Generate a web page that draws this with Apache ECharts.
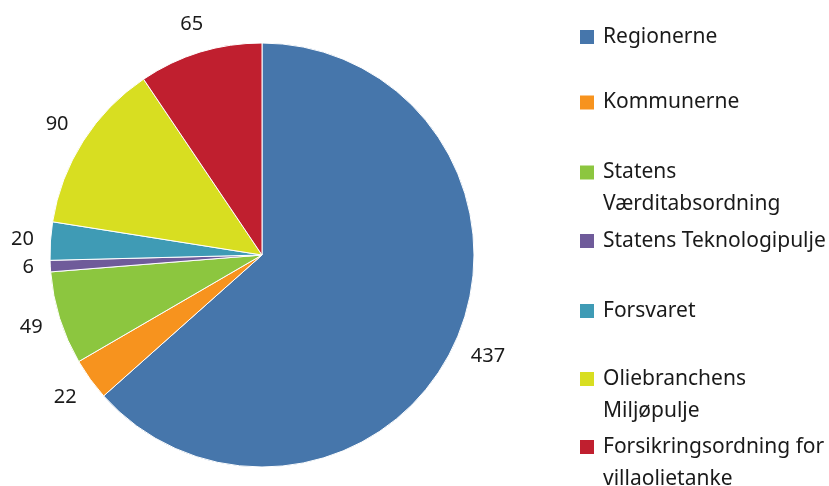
<!DOCTYPE html>
<html>
<head>
<meta charset="utf-8">
<script src="https://cdn.jsdelivr.net/npm/echarts@6/dist/echarts.min.js"></script>
<style>
  html, body { margin: 0; padding: 0; background: #fff; }
  #chart { width: 829px; height: 486px; }
</style>
</head>
<body>
<div id="chart"></div>
<script>
const names = [
  "Regionerne",
  "Kommunerne",
  "Statens\nVærditabsordning",
  "Statens Teknologipulje",
  "Forsvaret",
  "Oliebranchens\nMiljøpulje",
  "Forsikringsordning for\nvillaolietanke"
]
const values = [437, 22, 49, 6, 20, 90, 65]
const colors = ["#4676ab", "#f7931e", "#8cc63f", "#6f5b9a", "#3f9bb5", "#d8de21", "#c01f2f"]
// legend item tops
const legendTops = [21, 86.5, 124.5, 225, 295, 331, 399]

const CX = 262, CY = 255, R = 212
const font = "'Noto Sans', sans-serif"
const total = values.reduce(function (a, b) { return a + b }, 0)

const chart = echarts.init(document.getElementById("chart"))

const legends = names.map(function (n, i) {
  return {
    data: [n],
    orient: "vertical",
    left: 578,
    top: legendTops[i],
    padding: 0,
    itemWidth: 16,
    itemHeight: 16,
    itemGap: 0,
    icon: "rect",
    selectedMode: false,
    formatter: function (name) {
      // blank first line so the marker sits on the first text line
      return name.indexOf("\n") >= 0 ? "\n" + name : name
    },
    textStyle: {
      fontFamily: font,
      fontSize: 21,
      color: "#1a1a1a",
      lineHeight: 32,
      padding: [0, 0, 0, 3]
    }
  }
})

// put each value label just outside the rim, like the original
function placeLabel(p) {
  let before = 0
  for (let k = 0; k < p.dataIndex; k++) before += values[k]
  const mid = (before + values[p.dataIndex] / 2) / total * Math.PI * 2
  const ux = Math.sin(mid), uy = -Math.cos(mid)
  const w = String(values[p.dataIndex]).length * 11.4
  const h = 20
  const d = R + 16 + Math.abs(ux) * w / 2 + Math.abs(uy) * h / 2
  return {
    x: CX + ux * d,
    y: CY + uy * d,
    align: "center",
    verticalAlign: "middle"
  }
}

const option = {
  backgroundColor: "#fff",
  animation: false,
  color: colors,
  legend: legends,
  series: [
    {
      type: "pie",
      center: [CX, CY],
      radius: R,
      startAngle: 90,
      clockwise: true,
      itemStyle: {
        borderColor: "#fff",
        borderWidth: 1
      },
      label: {
        show: true,
        position: "outside",
        formatter: "{c}",
        fontFamily: font,
        fontSize: 20,
        color: "#1a1a1a",
        overflow: "none"
      },
      labelLine: {
        show: false,
        length: 0,
        length2: 0
      },
      labelLayout: placeLabel,
      data: names.map(function (n, i) {
        return { name: n, value: values[i] }
      })
    }
  ]
}

chart.setOption(option)
</script>
</body>
</html>
